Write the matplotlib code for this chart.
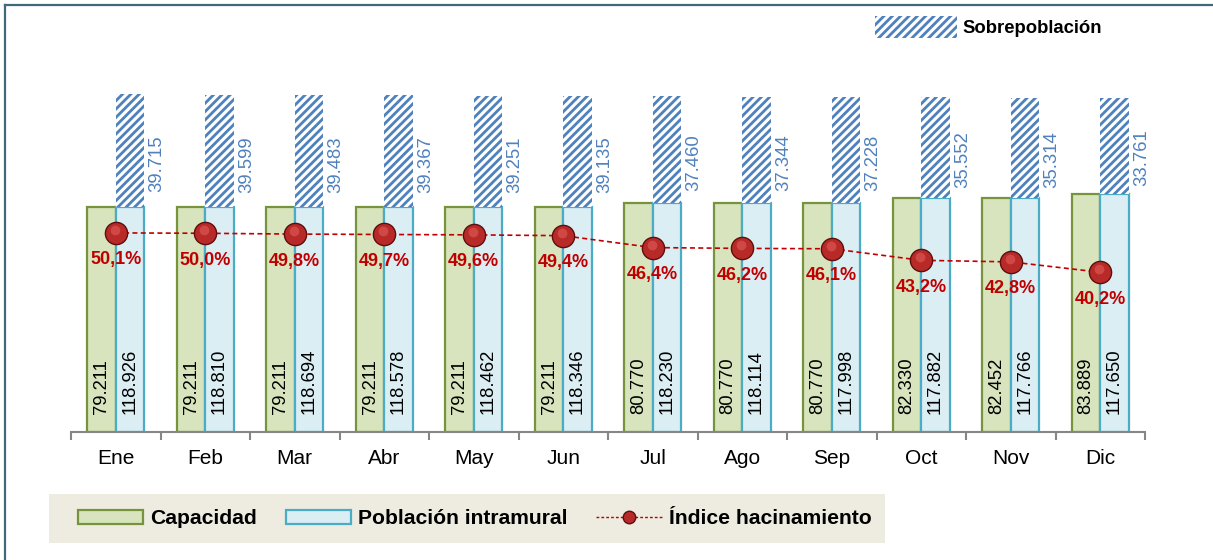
import matplotlib
matplotlib.use("Agg")
import matplotlib.pyplot as plt
import matplotlib.transforms as mtransforms
import numpy as np
from matplotlib.lines import Line2D
from matplotlib.patches import Patch, Rectangle

plt.rcParams['font.family'] = ['Liberation Sans', 'DejaVu Sans']
plt.rcParams['hatch.linewidth'] = 2.0

meses = ["Ene", "Feb", "Mar", "Abr", "May", "Jun", "Jul", "Ago", "Sep", "Oct", "Nov", "Dic"]
capacidad = [79211, 79211, 79211, 79211, 79211, 79211, 80770, 80770, 80770, 82330, 82452, 83889]
poblacion = [118926, 118810, 118694, 118578, 118462, 118346, 118230, 118114, 117998, 117882, 117766, 117650]
sobrepoblacion = [39715, 39599, 39483, 39367, 39251, 39135, 37460, 37344, 37228, 35552, 35314, 33761]
indice = [50.1, 50.0, 49.8, 49.7, 49.6, 49.4, 46.4, 46.2, 46.1, 43.2, 42.8, 40.2]

W, H = 1213, 560
fig = plt.figure(figsize=(W / 100, H / 100), dpi=100)
ax = fig.add_axes([71 / W, (H - 432) / H, 1074 / W, 372 / H])

x = np.arange(len(meses))
bw = 0.318
green_fc, green_ec = '#D7E4BD', '#77933C'
blue_fc, blue_ec = '#DBEEF4', '#4BACC6'
hatch_c = '#4F81BD'

ax.bar(x - bw / 2, capacidad, bw, color=green_fc, edgecolor=green_ec, linewidth=1.6, zorder=2)
ax.bar(x + bw / 2, capacidad, bw, color=blue_fc, edgecolor=blue_ec, linewidth=1.6, zorder=2)
ax.bar(x + bw / 2, sobrepoblacion, bw, bottom=capacidad, color='white',
       edgecolor=hatch_c, hatch='////', linewidth=0, zorder=2)

def fmt(v):
    return f"{v:,}".replace(",", ".")

for i in range(len(meses)):
    ax.annotate(fmt(capacidad[i]), (x[i] - bw / 2, 0), xytext=(0, 18), textcoords='offset pixels',
                rotation=90, ha='center', va='bottom', fontsize=13.3, color='black', zorder=5)
    ax.annotate(fmt(poblacion[i]), (x[i] + bw / 2, 0), xytext=(0, 18), textcoords='offset pixels',
                rotation=90, ha='center', va='bottom', fontsize=13.3, color='black', zorder=5)
    ax.text(x[i] + 0.46, capacidad[i] + 0.38 * sobrepoblacion[i], fmt(sobrepoblacion[i]),
            rotation=90, ha='center', va='center', fontsize=13.3, color=hatch_c, zorder=5)

ax.set_xlim(-0.5, len(meses) - 0.5)
ax.set_ylim(0, 372 / 0.00284)
for s in ['top', 'right', 'left']:
    ax.spines[s].set_visible(False)
ax.spines['bottom'].set_color('#868686')
ax.spines['bottom'].set_linewidth(1.5)
ax.set_yticks([])
ax.set_xticks(x)
ax.set_xticklabels(meses, fontsize=15)
ax.tick_params(axis='x', which='major', length=0, pad=12)
ax.set_xticks(np.arange(-0.5, len(meses), 1.0), minor=True)
ax.tick_params(axis='x', which='minor', length=6, width=1.5, color='#868686')

ax2 = ax.twinx()
ax2.set_ylim(0, 93.6)
ax2.axis('off')
ax2.plot(x, indice, linestyle=(0, (3, 2)), color='#C00000', linewidth=1.2, zorder=3)
ax2.plot(x, indice, linestyle='none', marker='o', markersize=16, markerfacecolor='#B82A28',
         markeredgecolor='#5E0E0E', markeredgewidth=1.0, zorder=4)
hl = mtransforms.offset_copy(ax2.transData, fig=fig, x=-1, y=3, units='dots')
ax2.plot(x, indice, linestyle='none', marker='o', markersize=7, markerfacecolor='#D9534F',
         markeredgecolor='none', alpha=0.75, transform=hl, zorder=4.5)
for i in range(len(meses)):
    ax2.annotate(f"{indice[i]:.1f}%".replace(".", ","), (x[i], indice[i]), xytext=(0, -27),
                 textcoords='offset pixels', ha='center', va='center', fontsize=13,
                 fontweight='bold', color='#C00000', zorder=6)

# legend background box
fig.add_artist(Rectangle((49 / W, (H - 543) / H), 836 / W, 49 / H, transform=fig.transFigure,
                         facecolor='#EEECE1', edgecolor='none', zorder=0))
handles = [
    Patch(facecolor=green_fc, edgecolor=green_ec, linewidth=1.6),
    Patch(facecolor=blue_fc, edgecolor=blue_ec, linewidth=1.6),
    Line2D([0], [0], linestyle=(0, (2, 1.5)), color='#C00000', linewidth=1.0, marker='o',
           markersize=9, markerfacecolor='#B82A28', markeredgecolor='#5E0E0E'),
]
fig.legend(handles, ["Capacidad", "Población intramural", "Índice hacinamiento"],
           loc='center left', bbox_to_anchor=(67 / W, (H - 519) / H), ncol=3,
           frameon=False, borderpad=0, handlelength=3.1, handleheight=0.6,
           handletextpad=0.35, columnspacing=1.35,
           prop={'size': 15.2, 'weight': 'bold'})

fig.legend([Patch(facecolor='white', edgecolor=hatch_c, hatch='////', linewidth=0)],
           ["Sobrepoblación"], loc='center left',
           bbox_to_anchor=(866 / W, (H - 27) / H), frameon=False, borderpad=0,
           handlelength=4.4, handleheight=1.45, handletextpad=0.3,
           prop={'size': 13.3, 'weight': 'bold'})

# outer frame lines
fig.add_artist(Line2D([5 / W, 5 / W], [0, 1 - 5 / H], transform=fig.transFigure,
                      color='#3E6A7A', linewidth=1.6))
fig.add_artist(Line2D([5 / W, 1], [1 - 5 / H, 1 - 5 / H], transform=fig.transFigure,
                      color='#3E6A7A', linewidth=1.6))

fig.savefig("out.png", dpi=100)
